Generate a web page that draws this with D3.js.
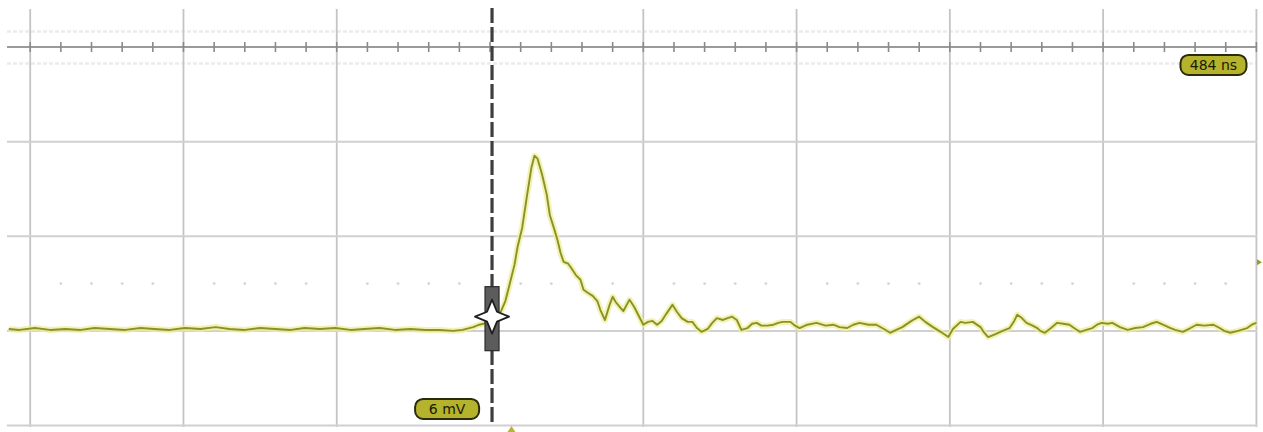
<!DOCTYPE html>
<html>
<head>
<meta charset="utf-8">
<script src="https://cdn.jsdelivr.net/npm/d3@7"></script>
<style>
  html, body { margin: 0; padding: 0; background: #ffffff; }
  svg { display: block; }
</style>
</head>
<body>
<svg id="chart" width="1263" height="432"></svg>
<script>
// ---- Data (time in ns relative to trigger, signal in mV) ----
const preTriggerTime = [-314,-307,-297,-287,-277,-267,-258,-248,-238,-228,-219,-209,-199,-189,-179,-170,-160,-150,-140,-130,-121,-111,-101,-91,-82,-72,-62,-52,-42,-33,-24,-18,-11,-7,-2];
const preTriggerMv   = [0.04,0.02,0.06,0.02,0.04,0.02,0.06,0.04,0.02,0.06,0.04,0.02,0.06,0.04,0.08,0.04,0.02,0.06,0.04,0.02,0.06,0.04,0.06,0.02,0.04,0.06,0.02,0.04,0.02,0.02,0.00,0.02,0.08,0.13,0.17];

const pulseTime = [3,7,10,13,16,18,21,24,27,29,31,34,37,39,42,44,46,48,51,53,56,59,61,64,67,70,72,75,78,80,82,85,87,91,94,97,100,103,106,109,112,115,119,122,125,129,132,135,138];
const pulseMv   = [0.27,0.40,0.63,1.01,1.40,1.78,2.18,2.83,3.45,3.70,3.64,3.30,2.88,2.45,2.14,1.92,1.65,1.46,1.42,1.33,1.18,1.08,0.87,0.80,0.74,0.63,0.44,0.23,0.55,0.72,0.61,0.49,0.42,0.66,0.51,0.32,0.13,0.19,0.21,0.13,0.21,0.36,0.55,0.40,0.27,0.19,0.19,0.06,-0.02];

const tailTime = [142,145,148,152,155,158,161,164,168,171,174,177,181,185,188,191,196,199,202,207,213,219,224,228,233,237,241,247,252,257,261,265,269,274,277,280,284,289,294,299,302,307,310,315,320,322,325,329,333,336,339,342,344,347,350,354,357,359,362,366,370,374,378,382,385,389,393,396,399,403,406,411,416,421,426,431,435,439,444,447,452,457,461,466,472,476,479,483,488,494,497,500];
const tailMv   = [0.04,0.17,0.27,0.23,0.27,0.30,0.23,0.02,0.06,0.15,0.17,0.11,0.11,0.13,0.17,0.19,0.19,0.11,0.06,0.13,0.17,0.11,0.13,0.08,0.06,0.13,0.17,0.13,0.13,0.04,-0.04,0.02,0.08,0.19,0.25,0.30,0.19,0.08,-0.02,-0.13,0.04,0.19,0.17,0.19,0.08,-0.02,-0.13,-0.08,-0.02,0.02,0.06,0.21,0.34,0.27,0.17,0.11,0.06,0.00,-0.04,0.06,0.17,0.15,0.13,0.04,-0.02,0.02,0.06,0.13,0.17,0.15,0.17,0.08,0.02,0.06,0.08,0.15,0.19,0.13,0.06,0.02,-0.02,0.06,0.13,0.11,0.13,0.06,0.00,-0.04,0.00,0.06,0.13,0.17];

const timeGridNs = [-300,-200,-100,0,100,200,300,400,500];
const voltGridMv = [-2,0,2,4,6];
const timeLabel = "484 ns";
const voltLabel = "6 mV";

// ---- Build series ----
const times = preTriggerTime.concat(pulseTime, tailTime);
const volts = preTriggerMv.concat(pulseMv, tailMv);
const samples = times.map((t, i) => ({ t, v: volts[i] }));

const svg = d3.select("#chart");
const plot = { left: 7, right: 1257, top: 9, bottom: 427 };

const x = d3.scaleLinear().domain([-300, 500]).range([30.2, 1256.4]);
const y = d3.scaleLinear().domain([-2, 6]).range([425.5, 47]);

svg.append("defs").append("clipPath").attr("id", "plotclip")
  .append("rect").attr("x", plot.left).attr("y", plot.top)
  .attr("width", plot.right - plot.left).attr("height", plot.bottom - plot.top);

const g = svg.append("g");

// faint fine-graticule rows near the top line
[6.33, 5.65].forEach(v => {
  g.append("line")
    .attr("x1", plot.left).attr("x2", plot.right)
    .attr("y1", y(v)).attr("y2", y(v))
    .attr("stroke", "#ececec").attr("stroke-width", 2.5)
    .attr("stroke-dasharray", "4,2");
});

// vertical grid lines
g.selectAll("line.vgrid").data(timeGridNs.filter(t => t !== 0)).enter()
  .append("line").attr("class", "vgrid")
  .attr("x1", d => x(d)).attr("x2", d => x(d))
  .attr("y1", plot.top).attr("y2", plot.bottom)
  .attr("stroke", "#c4c4c4").attr("stroke-width", 1.8);

// horizontal grid lines
g.selectAll("line.hgrid").data(voltGridMv).enter()
  .append("line").attr("class", "hgrid")
  .attr("x1", plot.left).attr("x2", plot.right)
  .attr("y1", d => y(d)).attr("y2", d => y(d))
  .attr("stroke", d => d === 6 ? "#9a9a9a" : "#d0d0d0")
  .attr("stroke-width", 2);

// minor ticks on the top (time) axis line
const minorTimes = d3.range(-380, 501, 20).filter(t => x(t) >= plot.left && x(t) <= plot.right);
g.selectAll("line.minor").data(minorTimes).enter()
  .append("line").attr("class", "minor")
  .attr("x1", d => x(d)).attr("x2", d => x(d))
  .attr("y1", y(6) - 5).attr("y2", y(6) + 5)
  .attr("stroke", "#8a8a8a").attr("stroke-width", 1.6);

// faint dots on the 1 mV row
const dotTimes = d3.range(-380, 501, 20).filter(t => t % 100 !== 0 && x(t) >= plot.left && x(t) <= plot.right);
g.selectAll("circle.fdot").data(dotTimes).enter()
  .append("circle").attr("class", "fdot")
  .attr("cx", d => x(d)).attr("cy", y(1))
  .attr("r", 1.4).attr("fill", "#d4d4d4");

// trigger line (dashed, dark)
g.append("line")
  .attr("x1", x(0) + 2).attr("x2", x(0) + 2)
  .attr("y1", 8).attr("y2", 426)
  .attr("stroke", "#3e3e3e").attr("stroke-width", 3.2)
  .attr("stroke-dasharray", "15,4");

// trace
const line = d3.line().x(d => x(d.t)).y(d => y(d.v)).curve(d3.curveLinear);
const traceG = g.append("g").attr("clip-path", "url(#plotclip)");
traceG.append("path").datum(samples)
  .attr("d", line).attr("fill", "none")
  .attr("stroke", "#eeee9c").attr("stroke-width", 6).attr("stroke-opacity", 0.75)
  .attr("stroke-linejoin", "round");
traceG.append("path").datum(samples)
  .attr("d", line).attr("fill", "none")
  .attr("stroke", "#8a9224").attr("stroke-width", 1.9)
  .attr("stroke-linejoin", "round");

// trigger marker
const mx = x(0) + 2, my = y(0.3);
g.append("rect").attr("x", mx - 7).attr("y", my - 30).attr("width", 14).attr("height", 64)
  .attr("fill", "#5c5c5c").attr("stroke", "#2a2a2a").attr("stroke-width", 1.2);
const starPts = [];
const outerR = [17, 17, 17, 17], innerR = 7;
for (let i = 0; i < 4; i++) {
  const a = -Math.PI / 2 + i * Math.PI / 2;
  starPts.push([mx + outerR[i] * Math.cos(a), my + outerR[i] * Math.sin(a)]);
  const b = a + Math.PI / 4;
  starPts.push([mx + innerR * Math.cos(b), my + innerR * Math.sin(b)]);
}
g.append("polygon").attr("points", starPts.map(p => p.join(",")).join(" "))
  .attr("fill", "#ffffff").attr("stroke", "#1e1e1e").attr("stroke-width", 1.8)
  .attr("stroke-linejoin", "round");

// small markers at edges
g.append("path")
  .attr("d", `M${x(14)},${426} l-4,6 l8,0 z`)
  .attr("fill", "#b8b43a");
g.append("path")
  .attr("d", `M${plot.right},${y(1.45) - 3} l5,3 l-5,3 z`)
  .attr("fill", "#9a9a30");

// readout labels
function badge(cx, cy, w, h, text) {
  g.append("rect").attr("x", cx - w / 2).attr("y", cy - h / 2)
    .attr("width", w).attr("height", h).attr("rx", 8).attr("ry", 8)
    .attr("fill", "#b5b22c").attr("stroke", "#2a2a0c").attr("stroke-width", 2);
  g.append("text").attr("x", cx).attr("y", cy + 5)
    .attr("text-anchor", "middle")
    .attr("font-family", "DejaVu Sans, sans-serif").attr("font-size", 14)
    .attr("fill", "#1a1a06").text(text);
}
badge(x(472), y(5.62), 66, 20, timeLabel);
badge(x(-28), y(-1.65), 64, 20, voltLabel);
</script>
</body>
</html>
